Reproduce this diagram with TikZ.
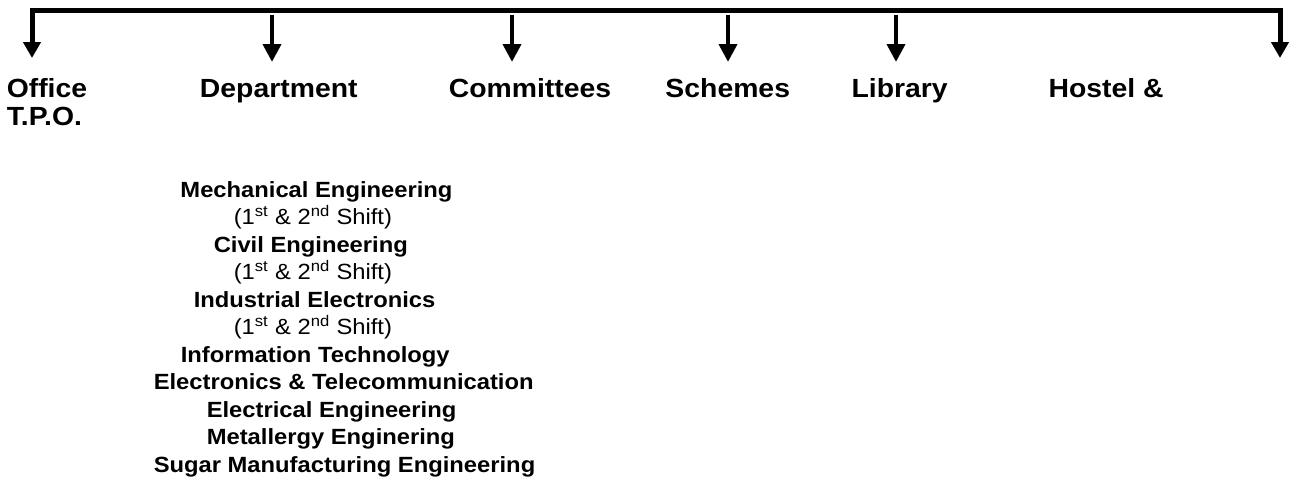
\documentclass[tikz,border=0pt]{standalone}
\usepackage{fontspec}
\setmainfont{Liberation Sans}[FakeStretch=1.08]
\usetikzlibrary{arrows.meta}
\begin{document}
\begin{tikzpicture}[x=0.75pt,y=-0.75pt,
  bar/.style={line width=3.75pt, line join=miter},
  drop/.style={line width=3.4pt, -{Triangle[width=13.3pt,length=13.5pt]}},
  toplabel/.style={anchor=base west, inner sep=0pt, font=\fontsize{19.7pt}{21.2pt}\selectfont\bfseries},
  sublabel/.style={anchor=base west, inner sep=0pt, font=\fontsize{16.5pt}{20.6pt}\selectfont\bfseries},
  shiftlabel/.style={anchor=base west, inner sep=0pt, font=\fontsize{16.5pt}{20.6pt}\selectfont}]
\useasboundingbox (0,0) rectangle (1306,480);
% bar and end arrows
\coordinate (tipL) at (32,58);
\coordinate (cornerL) at (32,10);
\coordinate (cornerR) at (1280,10);
\coordinate (tipR) at (1280,58);
\draw[bar, {Triangle[width=12.8pt,length=12pt]}-{Triangle[width=12.8pt,length=12pt]}]
  (tipL) -- (cornerL) -- (cornerR) -- (tipR);
% middle arrows
\foreach \n/\x in {dep/272, com/512, sch/728, lib/896}{
  \coordinate (\n top) at (\x,15);
  \coordinate (\n tip) at (\x,62);
  \draw[drop] (\n top) -- (\n tip);
}
% top labels
\node[toplabel] (office) at (6.5,97) {Office};
\node[toplabel] (tpo) at (6.5,125) {T.P.O.};
\node[toplabel] (department) at (199.7,97.3) {Department};
\node[toplabel] (committees) at (448.5,97.3) {Committees};
\node[toplabel] (schemes) at (665.2,97.3) {Schemes};
\node[toplabel] (library) at (851.3,97.3) {Library};
\node[toplabel] (hostel) at (1048.3,97.3) {Hostel \&};
% department list
\node[sublabel] (d1) at (180.2,197.3) {Mechanical Engineering};
\node[shiftlabel] (d2) at (233.5,224.8) {(1\textsuperscript{st} \& 2\textsuperscript{nd} Shift)};
\node[sublabel] (d3) at (213.5,252.3) {Civil Engineering};
\node[shiftlabel] (d4) at (233.5,279.8) {(1\textsuperscript{st} \& 2\textsuperscript{nd} Shift)};
\node[sublabel] (d5) at (193.5,307.3) {Industrial Electronics};
\node[shiftlabel] (d6) at (233.5,334.8) {(1\textsuperscript{st} \& 2\textsuperscript{nd} Shift)};
\node[sublabel] (d7) at (180.5,362.3) {Information Technology};
\node[sublabel] (d8) at (153.5,389.8) {Electronics \& Telecommunication};
\node[sublabel] (d9) at (206.5,417.3) {Electrical Engineering};
\node[sublabel] (d10) at (206.5,444.8) {Metallergy Enginering};
\node[sublabel] (d11) at (153.5,472.3) {Sugar Manufacturing Engineering};
\end{tikzpicture}
\end{document}
